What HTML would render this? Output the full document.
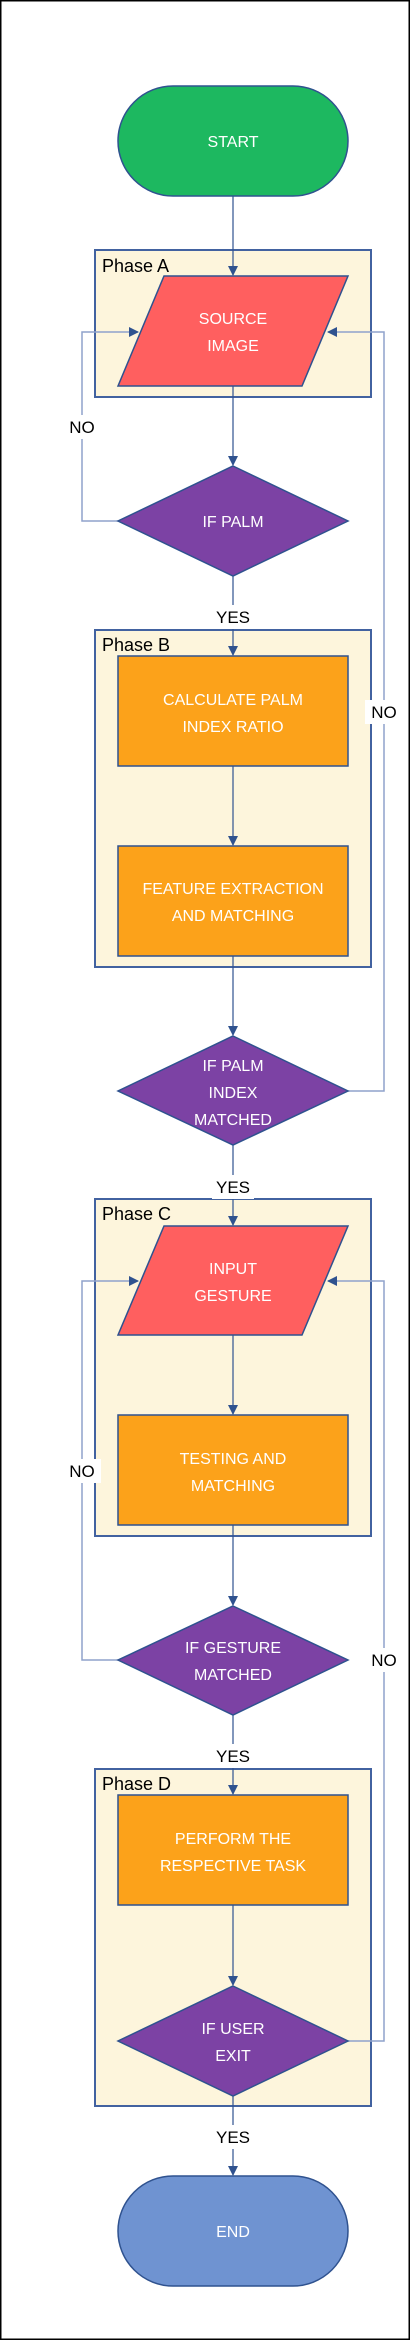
<!DOCTYPE html>
<html><head><meta charset="utf-8"><style>
html,body{margin:0;padding:0;background:#fff}
svg{display:block}
text{font-family:"Liberation Sans",sans-serif}
.w{fill:#fff;font-size:16px;text-anchor:middle}
.b{fill:#000;font-size:18px}
.bl{fill:#000;font-size:17px;text-anchor:middle}
.s{stroke:#2f528f;stroke-width:1.5}
.c{stroke:#2f528f;stroke-width:1.2;fill:none}
.l{stroke:#8fa2cc;stroke-width:1.5;fill:none}
.ph{fill:#fdf5dc;stroke:#4262a0;stroke-width:2}
</style></head><body>
<svg width="411" height="2340" viewBox="0 0 411 2340" xmlns="http://www.w3.org/2000/svg">
<defs><marker id="a" markerWidth="10" markerHeight="10" refX="9" refY="5" orient="auto" markerUnits="userSpaceOnUse"><path d="M0,0 L10,5 L0,10 z" fill="#2f528f"/></marker></defs>
<rect x="0.75" y="0.75" width="408.5" height="2338.5" fill="#fff" stroke="#000" stroke-width="1.5"/>

<rect class="ph" x="95" y="250" width="276" height="147"/>
<rect class="ph" x="95" y="630" width="276" height="337"/>
<rect class="ph" x="95" y="1199" width="276" height="337"/>
<rect class="ph" x="95" y="1769" width="276" height="337"/>
<text class="b" x="102" y="272">Phase A</text>
<text class="b" x="102" y="651">Phase B</text>
<text class="b" x="102" y="1220">Phase C</text>
<text class="b" x="102" y="1790">Phase D</text>

<polyline class="l" points="118,521 82,521 82,332 138,332" marker-end="url(#a)"/>
<polyline class="l" points="348,1091 384,1091 384,332 328,332" marker-end="url(#a)"/>
<polyline class="l" points="118,1660 82,1660 82,1281 138,1281" marker-end="url(#a)"/>
<polyline class="l" points="348,2041 384,2041 384,1281 328,1281" marker-end="url(#a)"/>

<line class="c" x1="233" y1="196" x2="233" y2="275" marker-end="url(#a)"/>
<line class="c" x1="233" y1="386" x2="233" y2="465" marker-end="url(#a)"/>
<line class="c" x1="233" y1="576" x2="233" y2="655" marker-end="url(#a)"/>
<line class="c" x1="233" y1="766" x2="233" y2="845" marker-end="url(#a)"/>
<line class="c" x1="233" y1="956" x2="233" y2="1035" marker-end="url(#a)"/>
<line class="c" x1="233" y1="1145" x2="233" y2="1225" marker-end="url(#a)"/>
<line class="c" x1="233" y1="1335" x2="233" y2="1414" marker-end="url(#a)"/>
<line class="c" x1="233" y1="1525" x2="233" y2="1605" marker-end="url(#a)"/>
<line class="c" x1="233" y1="1715" x2="233" y2="1794" marker-end="url(#a)"/>
<line class="c" x1="233" y1="1905" x2="233" y2="1985" marker-end="url(#a)"/>
<line class="c" x1="233" y1="2096" x2="233" y2="2175" marker-end="url(#a)"/>

<rect x="63" y="415" width="38" height="24" fill="#fff"/><text class="bl" x="82" y="433">NO</text>
<rect x="212" y="605" width="42" height="24" fill="#fff"/><text class="bl" x="233" y="623">YES</text>
<rect x="365" y="700" width="38" height="24" fill="#fff"/><text class="bl" x="384" y="718">NO</text>
<rect x="212" y="1175" width="42" height="24" fill="#fff"/><text class="bl" x="233" y="1193">YES</text>
<rect x="63" y="1459" width="38" height="24" fill="#fff"/><text class="bl" x="82" y="1477">NO</text>
<rect x="365" y="1648" width="38" height="24" fill="#fff"/><text class="bl" x="384" y="1666">NO</text>
<rect x="212" y="1744" width="42" height="24" fill="#fff"/><text class="bl" x="233" y="1762">YES</text>
<rect x="212" y="2125" width="42" height="24" fill="#fff"/><text class="bl" x="233" y="2143">YES</text>

<rect class="s" x="118" y="86" width="230" height="110" rx="55" fill="#1db860"/>
<text class="w" x="233" y="147">START</text>

<polygon class="s" points="164,276 348,276 302,386 118,386" fill="#ff5f5f"/>
<text class="w" x="233" y="324">SOURCE</text>
<text class="w" x="233" y="351">IMAGE</text>

<polygon class="s" points="233,466 348,521 233,576 118,521" fill="#7c42a4"/>
<text class="w" x="233" y="527">IF PALM</text>

<rect class="s" x="118" y="656" width="230" height="110" fill="#fca21a"/>
<text class="w" x="233" y="705">CALCULATE PALM</text>
<text class="w" x="233" y="732">INDEX RATIO</text>

<rect class="s" x="118" y="846" width="230" height="110" fill="#fca21a"/>
<text class="w" x="233" y="894">FEATURE EXTRACTION</text>
<text class="w" x="233" y="921">AND MATCHING</text>

<polygon class="s" points="233,1036 348,1091 233,1145 118,1091" fill="#7c42a4"/>
<text class="w" x="233" y="1071">IF PALM</text>
<text class="w" x="233" y="1098">INDEX</text>
<text class="w" x="233" y="1125">MATCHED</text>

<polygon class="s" points="164,1226 348,1226 302,1335 118,1335" fill="#ff5f5f"/>
<text class="w" x="233" y="1274">INPUT</text>
<text class="w" x="233" y="1301">GESTURE</text>

<rect class="s" x="118" y="1415" width="230" height="110" fill="#fca21a"/>
<text class="w" x="233" y="1464">TESTING AND</text>
<text class="w" x="233" y="1491">MATCHING</text>

<polygon class="s" points="233,1606 348,1660 233,1715 118,1660" fill="#7c42a4"/>
<text class="w" x="233" y="1653">IF GESTURE</text>
<text class="w" x="233" y="1680">MATCHED</text>

<rect class="s" x="118" y="1795" width="230" height="110" fill="#fca21a"/>
<text class="w" x="233" y="1844">PERFORM THE</text>
<text class="w" x="233" y="1871">RESPECTIVE TASK</text>

<polygon class="s" points="233,1986 348,2041 233,2096 118,2041" fill="#7c42a4"/>
<text class="w" x="233" y="2034">IF USER</text>
<text class="w" x="233" y="2061">EXIT</text>

<rect class="s" x="118" y="2176" width="230" height="110" rx="55" fill="#6f93d1"/>
<text class="w" x="233" y="2237">END</text>
</svg>
</body></html>
